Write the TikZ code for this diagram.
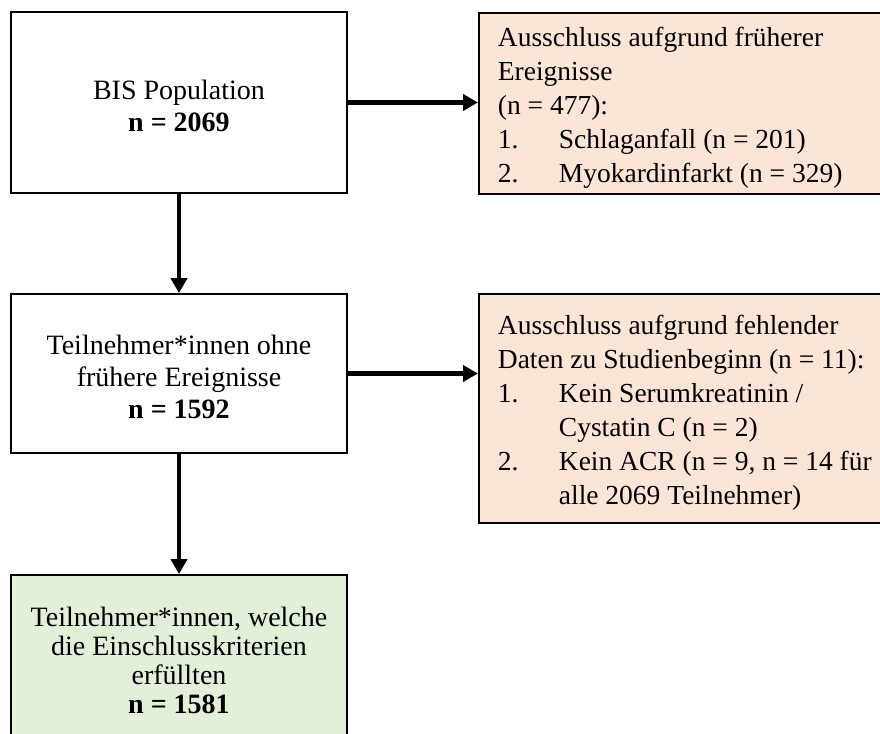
\documentclass[tikz,border=0pt]{standalone}
\usepackage{fontspec}
\setmainfont{Liberation Serif}
\usepackage{xcolor}
\usetikzlibrary{arrows.meta,positioning}

\definecolor{exclfill}{HTML}{FBE5D6}
\definecolor{inclfill}{HTML}{E2F0D9}

%% hanging number for the exclusion lists
\newcommand{\itemno}[1]{\makebox[61pt][l]{#1}}
\newcommand{\itemcont}{\hspace*{61pt}}
%% invisible strut to push the first line down a little
\newcommand{\firstline}[1]{\rule{0pt}{#1}}

\begin{document}
\begin{tikzpicture}[
  x=1pt, y=-1pt,
  every node/.style={font=\fontsize{28}{32}\selectfont,
                     execute at begin node={\spaceskip=0.25em plus 0.1em minus 0.05em\relax}},
  flow/.style={draw=black, line width=1.8pt, fill=white, align=center,
               minimum width=336pt, inner sep=0pt},
  excl/.style={draw=black, line width=1.8pt, fill=exclfill, align=left,
               anchor=north west, text width=402pt, inner xsep=19pt, inner ysep=0pt,
               font=\fontsize{27.5}{34}\selectfont},
  incl/.style={flow, fill=inclfill, font=\fontsize{28}{29}\selectfont},
  arr/.style={-{Triangle[length=15pt, width=16pt]}, line width=4.5pt},
]

%% ── Page frame ────────────────────────────────────────────────────────────
\useasboundingbox (0,0) rectangle (880,733);
\fill[white] (0,0) rectangle (880,733);
\clip (0,0) rectangle (880,733);

%% ── Main flow (left column) ──────────────────────────────────────────────
\node[flow, minimum height=181pt] (bis) at (179,102.5)
  {\firstline{27pt}BIS Population\\\textbf{n = 2069}};
\node[flow, minimum height=159pt] (noprior) at (179,373.5)
  {\firstline{27pt}Teilnehmer*innen ohne\\frühere Ereignisse\\\textbf{n = 1592}};
\node[incl, minimum height=170pt] (final) at (179,660)
  {Teilnehmer*innen, welche\\die Einschlusskriterien\\erfüllten\\\textbf{n = 1581}};

%% ── Exclusions (right column) ────────────────────────────────────────────
\node[excl, minimum height=181pt] (prior) at (478,12)
  {\firstline{29pt}Ausschluss aufgrund früherer\\Ereignisse\\(n = 477):\\
   \itemno{1.}Schlaganfall (n = 201)\\
   \itemno{2.}Myokardinfarkt (n = 329)};
\node[excl, minimum height=229pt] (missing) at (478,293)
  {\firstline{29pt}Ausschluss aufgrund fehlender\\Daten zu Studienbeginn (n = 11):\\
   \itemno{1.}Kein Serumkreatinin /\\
   \itemcont Cystatin C (n = 2)\\
   \itemno{2.}Kein ACR (n = 9, n = 14 für\\
   \itemcont alle 2069 Teilnehmer)};

%% ── Arrows ───────────────────────────────────────────────────────────────
\draw[arr] (bis.south) -- (noprior.north);
\draw[arr] (noprior.south) -- (final.north);
\draw[arr] (bis.east) -- (bis.east -| prior.west);
\draw[arr] (noprior.east) -- (noprior.east -| missing.west);

\end{tikzpicture}
\end{document}
